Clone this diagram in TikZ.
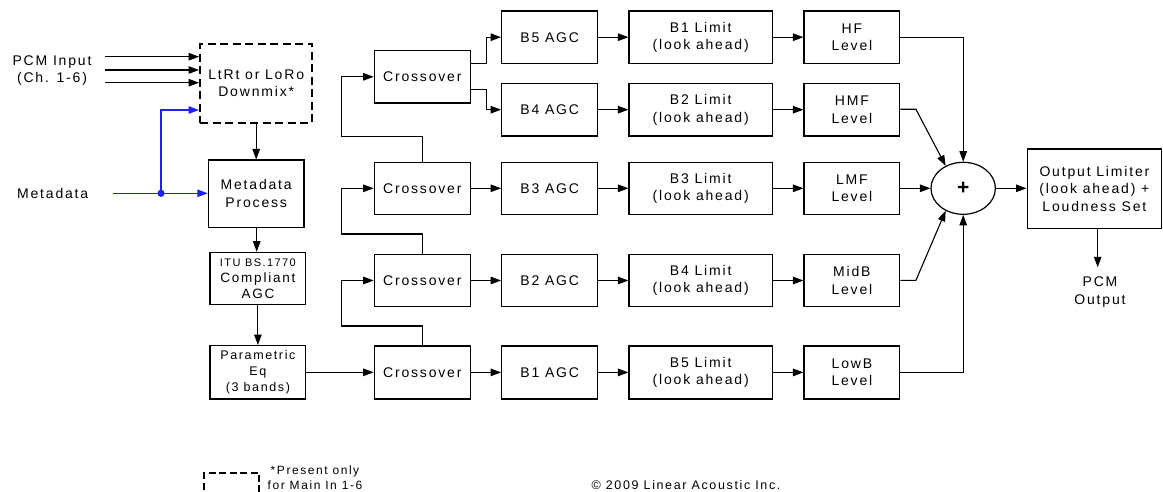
\documentclass[tikz,border=0pt]{standalone}
\usepackage{fontspec}
\setmainfont{Liberation Sans}[LetterSpace=13]
\usetikzlibrary{arrows.meta,shapes.geometric,calc}
\definecolor{mblue}{RGB}{30,30,255}
\begin{document}
\begin{tikzpicture}[x=1pt,y=-1pt,
  txt/.style={font=\fontsize{14}{17.5}\selectfont,align=center,inner sep=0pt},
  box/.style={draw,line width=1.2pt,minimum width=96pt,minimum height=52.5pt,inner sep=0pt,align=center,font=\fontsize{14}{17.5}\selectfont},
  limbox/.style={box,minimum width=143.3pt},
  arr/.style={-{Triangle[length=10.5pt,width=7.5pt]},line width=1.1pt},
  barr/.style={arr,draw=mblue},
  dbox/.style={draw,line width=2pt,dash pattern=on 8pt off 4.5pt}
]
\useasboundingbox (0,0) rectangle (1163,492);

% left column
\node[box,dbox,minimum width=112.3pt,minimum height=78.4pt] (dm) at (256.2,83.5) {LtRt or LoRo\\Downmix*};
\node[box,minimum width=95.7pt,minimum height=67.3pt] (mp) at (256.2,193.7) {Metadata\\Process};
\node[box,minimum width=95.7pt,minimum height=52.4pt,font=\fontsize{13.5}{16}\selectfont] (itu) at (257.9,278.5) {{\fontsize{11}{16}\selectfont ITU BS.1770}\\Compliant\\AGC};
\node[box,minimum width=95.7pt,minimum height=53.3pt,font=\fontsize{12.5}{16.3}\selectfont] (peq) at (257.9,372.3) {Parametric\\Eq\\(3 bands)};

\node[txt] (pcmin) at (52,70.5) {PCM Input\\(Ch. 1-6)};
\node[txt] (meta) at (52.7,193.3) {Metadata};

\coordinate (pin1) at (105,56.7);
\coordinate (pin2) at (105,70);
\coordinate (pin3) at (105,82.7);
\draw[arr] (pin1) -- (pin1 -| dm.west);
\draw[arr] (pin2) -- (pin2 -| dm.west);
\draw[arr] (pin3) -- (pin3 -| dm.west);

\coordinate (mstart) at (113.3,193.3);
\coordinate (dot) at (161,193.3);
\draw[barr] (mstart) -- (mstart -| mp.west);
\draw[barr] (dot) |- ([yshift=-26.5pt]dm.west);
\fill[mblue] (dot) circle (3.6pt);

\draw[arr] (dm.south) -- (dm.south |- mp.north);
\draw[arr] ([xshift=0.5pt]mp.south) -- ([xshift=0.5pt]mp.south |- itu.north);
\draw[arr] (itu.south) -- (peq.north);

% crossovers
\node[box,minimum height=52.3pt] (c1) at (422.3,76.8) {Crossover};
\node[box,minimum height=52pt] (c2) at (422.3,188.3) {Crossover};
\node[box,minimum height=52.5pt] (c3) at (422.3,280.5) {Crossover};
\node[box,minimum height=53pt] (c4) at (422.3,372.4) {Crossover};

\draw[arr] (peq.east) -- (peq.east -| c4.west);
\draw[arr] (c4.north) -- ++(0,-19.3) -| ([xshift=-32pt]c3.west) -- (c3.west);
\draw[arr] (c3.north) -- ++(0,-19.7) -| ([xshift=-32pt]c2.west) -- (c2.west);
\draw[arr] (c2.north) -- ++(0,-25.6) -| ([xshift=-32pt]c1.west) -- (c1.west);

% AGCs
\node[box] (a1) at (549.7,37.2) {B5 AGC};
\node[box] (a2) at (549.7,109.7) {B4 AGC};
\node[box,minimum height=52pt] (a3) at (549.7,188.3) {B3 AGC};
\node[box] (a4) at (549.7,280.5) {B2 AGC};
\node[box,minimum height=53pt] (a5) at (549.7,372.4) {B1 AGC};

\draw[arr] ([yshift=13.5pt]c1.east) -- ++(16,0) |- (a1.west);
\draw[arr] ([yshift=-12.5pt]c1.east) -- ++(16,0) |- (a2.west);
\draw[arr] (c2.east) -- (a3.west);
\draw[arr] (c3.east) -- (a4.west);
\draw[arr] (c4.east) -- (a5.west);

% limits
\node[limbox] (l1) at (700.7,37.2) {B1 Limit\\(look ahead)};
\node[limbox] (l2) at (700.7,109.7) {B2 Limit\\(look ahead)};
\node[limbox,minimum height=52pt] (l3) at (700.7,188.3) {B3 Limit\\(look ahead)};
\node[limbox] (l4) at (700.7,280.5) {B4 Limit\\(look ahead)};
\node[limbox,minimum height=53pt] (l5) at (700.7,372.4) {B5 Limit\\(look ahead)};

\draw[arr] (a1) -- (l1);
\draw[arr] (a2) -- (l2);
\draw[arr] (a3) -- (l3);
\draw[arr] (a4) -- (l4);
\draw[arr] (a5) -- (l5);

% levels
\node[box,minimum width=95.7pt] (v1) at (851.9,37.2) {HF\\Level};
\node[box,minimum width=95.7pt] (v2) at (851.9,109.7) {HMF\\Level};
\node[box,minimum width=95.7pt,minimum height=52pt] (v3) at (851.9,188.3) {LMF\\Level};
\node[box,minimum width=95.7pt] (v4) at (851.9,280.5) {MidB\\Level};
\node[box,minimum width=95.7pt,minimum height=53pt] (v5) at (851.9,372.4) {LowB\\Level};

\draw[arr] (l1) -- (v1);
\draw[arr] (l2) -- (v2);
\draw[arr] (l3) -- (v3);
\draw[arr] (l4) -- (v4);
\draw[arr] (l5) -- (v5);

% sum
\node[draw,ellipse,line width=1.2pt,minimum width=64.4pt,minimum height=52pt,inner sep=0pt,font=\fontsize{21}{21}\selectfont\bfseries] (sum) at (963.2,188.3) {+};

\draw[arr] (v1.east) -| (sum.north);
\draw[arr] ([yshift=0.4pt]v2.east) -- ++(15.6,0) -- (sum.128);
\draw[arr] (v3.east) -- (sum.west);
\draw[arr] ([yshift=0.2pt]v4.east) -- ++(15.6,0) -- (sum.232);
\draw[arr] (v5.east) -| (sum.south);

% output
\node[box,minimum width=134.6pt,minimum height=79.3pt] (ol) at (1094.4,188.6) {Output Limiter\\(look ahead) +\\Loudness Set};
\draw[arr] (sum.east) -- (sum.east -| ol.west);
\draw[arr] ([xshift=3.3pt]ol.south) -- ++(0,38.4) coordinate (oend);
\node[txt] (pcmout) at (1100,292) {PCM\\Output};

% legend
\coordinate (lg1) at (204.3,500);
\coordinate (lg2) at (204.3,472.7);
\coordinate (lg3) at (259,472.7);
\coordinate (lg4) at (259,500);
\draw[line width=2pt,dash pattern=on 7pt off 3.5pt] (lg1) -- (lg2) -- (lg3) -- (lg4);
\node[txt,font=\fontsize{12}{15}\selectfont] (legtxt) at (315,478) {*Present only\\for Main In 1-6};
\node[txt,font=\fontsize{12.5}{15}\selectfont] (copy) at (686,485) {© 2009 Linear Acoustic Inc.};
\end{tikzpicture}
\end{document}
